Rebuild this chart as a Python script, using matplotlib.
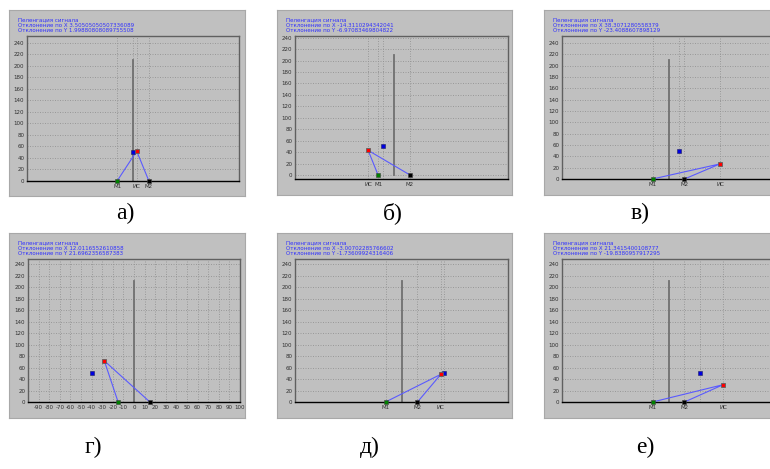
import matplotlib
matplotlib.use("Agg")
from matplotlib import pyplot as plt

W, H = 770, 469

# panel captions
captions = ["а)", "б)", "в)", "г)", "д)", "е)"]

# microphone positions (x), all on y = 0
mic1_x = [-15, -15, -15, -15, -15, -15]
mic2_x = [15, 15, 15, 15, 15, 15]

# true source position (blue square)
src_x = [0, -10, 10, -40, 40, 30]
src_y = [50, 50, 50, 50, 50, 50]

# estimated source (red square) = true + deviation
dev_x = [3.50505050507336, -14.3110294342041, 38.3071280558379,
         12.0116552610859, -3.00702285766602, 21.3415400108777]
dev_y = [1.99880808089755, -6.97083469804822, -23.4088607898129,
         21.6962356587383, -1.73609924316406, -19.8380957917295]
dev_x_txt = ["3.50505050507336089", "-14.3110294342041", "38.3071280558379",
             "12.0116552610858", "-3.00702285766602", "21.3415400108777"]
dev_y_txt = ["1.99880808089755508", "-6.97083469804822", "-23.4088607898129",
             "21.6962356587383", "-1.73609924316406", "-19.8380957917295"]

# height of the reference vertical line at x = 0
ref_line = 210

y_ticks = list(range(0, 241, 20))
x_ticks_g = list(range(-90, 101, 10))

# pixel geometry of panels: (gray box), (plot box), xlim, ylim
gray_boxes = [(9, 10, 245, 196), (277, 10, 512, 195), (544, 10, 772, 195),
              (9, 233, 245, 418), (277, 233, 512, 418), (544, 233, 772, 418)]
plot_boxes = [(27, 36, 239, 181), (295, 36, 508, 179), (562, 36, 775, 179),
              (28, 259, 240, 402), (295, 259, 508, 402), (562, 259, 775, 402)]
xlims = [(-100, 100), (-93, 107), (-100, 100), (-100, 100), (-100, 100), (-100, 100)]
ylims = [(0, 252), (-7, 243), (0, 252), (0, 249), (0, 249), (0, 249)]
cap_pos = [(125, 213), (393, 213), (640, 213), (93, 447), (370, 447), (645, 447)]

fig = plt.figure(figsize=(W / 100, H / 100), dpi=100)
fig.patch.set_facecolor("white")

gray = "#c0c0c0"
grid_c = "#939393"
grid_ls = (0, (1.2, 1.8))


def fbox(x0, y0, x1, y1):
    return [x0 / W, 1 - y1 / H, (x1 - x0) / W, (y1 - y0) / H]


for i in range(6):
    # window background
    bg = fig.add_axes(fbox(*gray_boxes[i]))
    bg.set_facecolor(gray)
    bg.set_xticks([])
    bg.set_yticks([])
    for s in bg.spines.values():
        s.set_color("#a8a8a8")
        s.set_linewidth(0.8)

    ax = fig.add_axes(fbox(*plot_boxes[i]))
    ax.set_facecolor(gray)
    ax.set_xlim(*xlims[i])
    ax.set_ylim(*ylims[i])

    ex = src_x[i] + dev_x[i]
    ey = src_y[i] + dev_y[i]

    # horizontal grid
    for yv in y_ticks:
        ax.axhline(yv, color=grid_c, linestyle=grid_ls, linewidth=0.6, zorder=1)

    if i == 3:
        xt = x_ticks_g
        xl = [str(v) for v in x_ticks_g]
        for xv in xt:
            ax.axvline(xv, color=grid_c, linestyle=grid_ls, linewidth=0.6, zorder=1)
    else:
        xt = [mic1_x[i], mic2_x[i], ex]
        xl = ["M1", "M2", "ИС"]
        for xv in [mic1_x[i], mic2_x[i], ex, src_x[i]]:
            ax.axvline(xv, color=grid_c, linestyle=grid_ls, linewidth=0.6, zorder=1)

    ax.set_xticks(xt)
    ax.set_xticklabels(xl)
    ax.set_yticks(y_ticks)
    ax.tick_params(labelsize=4, length=0, pad=2, colors="#303030")

    # reference line
    ax.plot([0, 0], [0, ref_line], color="#707070", linewidth=1.3, zorder=2)

    # bearing lines from estimate to microphones
    ax.plot([mic1_x[i], ex, mic2_x[i]], [0, ey, 0], color="#5a5aff",
            linewidth=0.8, zorder=3)

    ax.plot(mic1_x[i], 0, "s", color="#008000", markersize=3.3,
            markeredgecolor="#404040", markeredgewidth=0.4, zorder=4, clip_on=False)
    ax.plot(mic2_x[i], 0, "s", color="black", markersize=3.3,
            markeredgecolor="#404040", markeredgewidth=0.4, zorder=4, clip_on=False)
    ax.plot(src_x[i], src_y[i], "s", color="#0000e0", markersize=3.5,
            markeredgecolor="#202060", markeredgewidth=0.4, zorder=4)
    ax.plot(ex, ey, "s", color="#ff0000", markersize=3.5,
            markeredgecolor="#606060", markeredgewidth=0.6, zorder=5)

    for s in ["top", "left", "right"]:
        ax.spines[s].set_color("#606060")
        ax.spines[s].set_linewidth(1.0)
    ax.spines["bottom"].set_color("black")
    ax.spines["bottom"].set_linewidth(1.0)

    # info text
    tx, ty = gray_boxes[i][0] + 9, gray_boxes[i][1] + 10
    lines = ["Пеленгация сигнала",
             "Отклонение по X " + dev_x_txt[i],
             "Отклонение по Y " + dev_y_txt[i]]
    for k, t in enumerate(lines):
        fig.text(tx / W, 1 - (ty + k * 5.4) / H, t, fontsize=4, color="#3030ff",
                 va="center", ha="left")

    cx, cy = cap_pos[i]
    fig.text(cx / W, 1 - cy / H, captions[i], fontsize=17, family="Liberation Serif",
             ha="center", va="center")

plt.savefig("out.png", dpi=100)
